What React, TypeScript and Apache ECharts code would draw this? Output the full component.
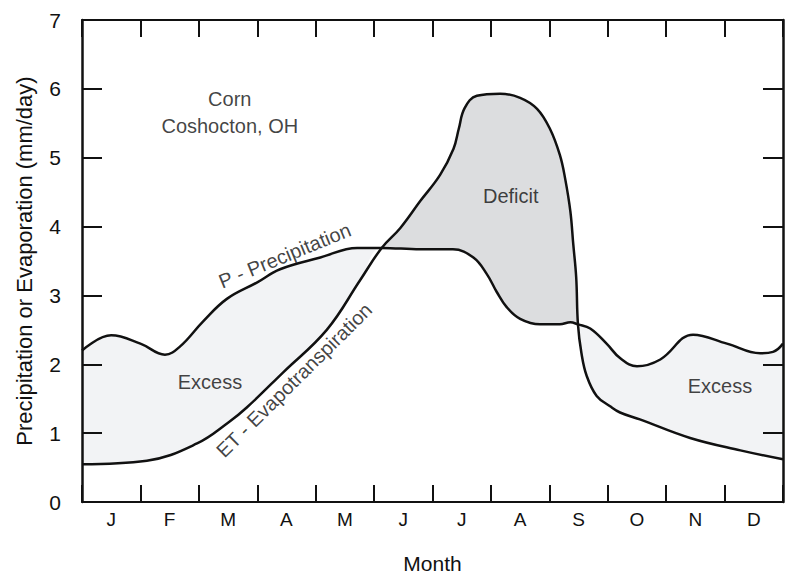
import React, { useEffect, useRef } from "react";
import * as echarts from "echarts";

const MONTHS = ["J", "F", "M", "A", "M", "J", "J", "A", "S", "O", "N", "D"];

// [month position (0 = start of Jan, 12 = end of Dec), mm/day]
const PRECIP: [number, number][] = [
  [0, 2.2], [0.5, 2.42], [1.0, 2.3], [1.42, 2.14], [1.68, 2.26], [2.07, 2.62],
  [2.48, 2.95], [3.0, 3.19], [3.39, 3.38], [4.08, 3.55], [4.71, 3.69], [5.13, 3.69],
  [5.79, 3.67], [6.35, 3.67], [6.7, 3.55], [6.93, 3.31], [7.1, 3.05], [7.27, 2.83],
  [7.5, 2.66], [7.84, 2.58], [8.18, 2.58], [8.36, 2.61], [8.49, 2.58], [8.7, 2.52],
  [8.98, 2.3], [9.21, 2.09], [9.5, 1.97], [9.9, 2.07], [10.46, 2.43], [11.04, 2.3],
  [11.61, 2.16], [11.83, 2.18], [12, 2.3],
];

const EVAPO: [number, number][] = [
  [0, 0.55], [1.11, 0.6], [1.97, 0.85], [2.5, 1.15], [2.83, 1.38], [3.44, 1.88],
  [4.19, 2.5], [4.76, 3.22], [5.13, 3.69], [5.45, 3.98], [5.79, 4.37], [6.13, 4.75],
  [6.36, 5.13], [6.45, 5.42], [6.55, 5.72], [6.76, 5.9], [7.16, 5.93], [7.5, 5.87],
  [7.79, 5.71], [8.01, 5.42], [8.18, 5.04], [8.27, 4.7], [8.36, 4.22], [8.41, 3.74],
  [8.46, 3.26], [8.49, 2.58], [8.55, 2.16], [8.64, 1.83], [8.81, 1.54], [9.04, 1.39],
  [9.21, 1.3], [9.55, 1.2], [10.41, 0.93], [11.27, 0.75], [12, 0.62],
];

// where the two curves cross
const CROSSINGS = [5.13, 8.49];

// annotations in data coordinates
const NOTES: { name: string; x: number; y: number; rotate: number }[] = [
  { name: "Corn", x: 2.53, y: 5.85, rotate: 0 },
  { name: "Coshocton, OH", x: 2.53, y: 5.46, rotate: 0 },
  { name: "Excess", x: 2.19, y: 1.74, rotate: 0 },
  { name: "Deficit", x: 7.34, y: 4.45, rotate: 0 },
  { name: "Excess", x: 10.92, y: 1.69, rotate: 0 },
  { name: "P - Precipitation", x: 3.47, y: 3.58, rotate: 22.3 },
  { name: "ET - Evapotranspiration", x: 3.63, y: 1.77, rotate: 44.7 },
];

const SMOOTH = 0.4;
const EXCESS_COLOR = "#f2f3f5";
const DEFICIT_COLOR = "#dcdddf";
const INK = "#111111";
const TEXT = "#111111";
const FONT = "Liberation Sans, Arial, Helvetica, sans-serif";

function slice(data: [number, number][], lo: number, hi: number) {
  return data.filter((d) => d[0] >= lo && d[0] <= hi);
}

function areaSeries(data: [number, number][], color: string) {
  return {
    type: "line",
    data,
    smooth: SMOOTH,
    symbol: "none",
    silent: true,
    lineStyle: { width: 0, opacity: 0 },
    areaStyle: { color, opacity: 1 },
    z: 2,
  };
}

export default function App() {
  const ref = useRef<HTMLDivElement>(null);

  useEffect(() => {
    if (!ref.current) return;
    const chart = echarts.init(ref.current, null, { renderer: "svg" });
    const [c1, c2] = CROSSINGS;

    // lower envelope of the two curves (blanks out everything below the band)
    const lower = [
      ...slice(EVAPO, 0, c1),
      ...slice(PRECIP, c1, c2).filter((d) => d[0] > c1 && d[0] < c2),
      ...slice(EVAPO, c2, 12),
    ];

    const axisLine = (w: number) => ({
      show: true,
      onZero: false,
      lineStyle: { color: INK, width: w },
    });
    const tick = (len: number) => ({
      show: true,
      inside: true,
      length: len,
      lineStyle: { color: INK, width: 2 },
    });

    chart.setOption({
      animation: false,
      backgroundColor: "#ffffff",
      textStyle: { fontFamily: FONT },
      grid: { left: 82, right: 4, top: 20, bottom: 72, containLabel: false },
      xAxis: [
        {
          type: "value", min: 0, max: 12, interval: 1, position: "bottom", z: 5,
          axisLine: axisLine(2), axisTick: tick(17),
          axisLabel: { show: false }, splitLine: { show: false },
        },
        {
          type: "value", min: 0, max: 12, interval: 1, position: "top", z: 5,
          axisLine: axisLine(2), axisTick: tick(17),
          axisLabel: { show: false }, splitLine: { show: false },
        },
        {
          type: "category",
          data: MONTHS,
          position: "bottom",
          boundaryGap: true,
          axisLine: { show: false },
          axisTick: { show: false },
          axisLabel: { fontSize: 19, margin: 8, color: TEXT },
          splitLine: { show: false },
          name: "Month",
          nameLocation: "middle",
          nameGap: 51,
          nameTextStyle: { fontSize: 21, color: TEXT },
        },
      ],
      yAxis: [
        {
          type: "value", min: 0, max: 7, interval: 1, position: "left", z: 5,
          axisLine: axisLine(2.5), axisTick: tick(20),
          axisLabel: { fontSize: 21, margin: 21, color: TEXT },
          splitLine: { show: false },
          name: "Precipitation or Evaporation (mm/day)",
          nameLocation: "middle",
          nameGap: 47,
          nameTextStyle: { fontSize: 22, color: TEXT },
        },
        {
          type: "value", min: 0, max: 7, interval: 1, position: "right", z: 5,
          axisLine: axisLine(2.5), axisTick: tick(20),
          axisLabel: { show: false }, splitLine: { show: false },
        },
      ],
      series: [
        areaSeries(slice(PRECIP, 0, c1), EXCESS_COLOR),
        areaSeries(slice(PRECIP, c2, 12), EXCESS_COLOR),
        areaSeries(slice(EVAPO, c1, c2), DEFICIT_COLOR),
        areaSeries(lower, "#ffffff"),
        {
          type: "line",
          name: "P - Precipitation",
          data: PRECIP,
          smooth: SMOOTH,
          symbol: "none",
          silent: true,
          lineStyle: { color: INK, width: 2.5 },
          z: 3,
        },
        {
          type: "line",
          name: "ET - Evapotranspiration",
          data: EVAPO,
          smooth: SMOOTH,
          symbol: "none",
          silent: true,
          lineStyle: { color: INK, width: 2.5 },
          z: 3,
        },
        {
          type: "scatter",
          silent: true,
          symbolSize: 1,
          itemStyle: { color: "rgba(0,0,0,0)" },
          z: 4,
          data: NOTES.map((n) => ({
            name: n.name,
            value: [n.x, n.y],
            label: { rotate: n.rotate },
          })),
          label: {
            show: true,
            position: "inside",
            formatter: "{b}",
            fontSize: 20,
            color: TEXT,
            fontFamily: FONT,
          },
        },
      ],
    });

    return () => chart.dispose();
  }, []);

  return (
    <div
      ref={ref}
      style={{ position: "fixed", left: 0, top: 0, width: 787, height: 579, background: "#fff" }}
    />
  );
}
